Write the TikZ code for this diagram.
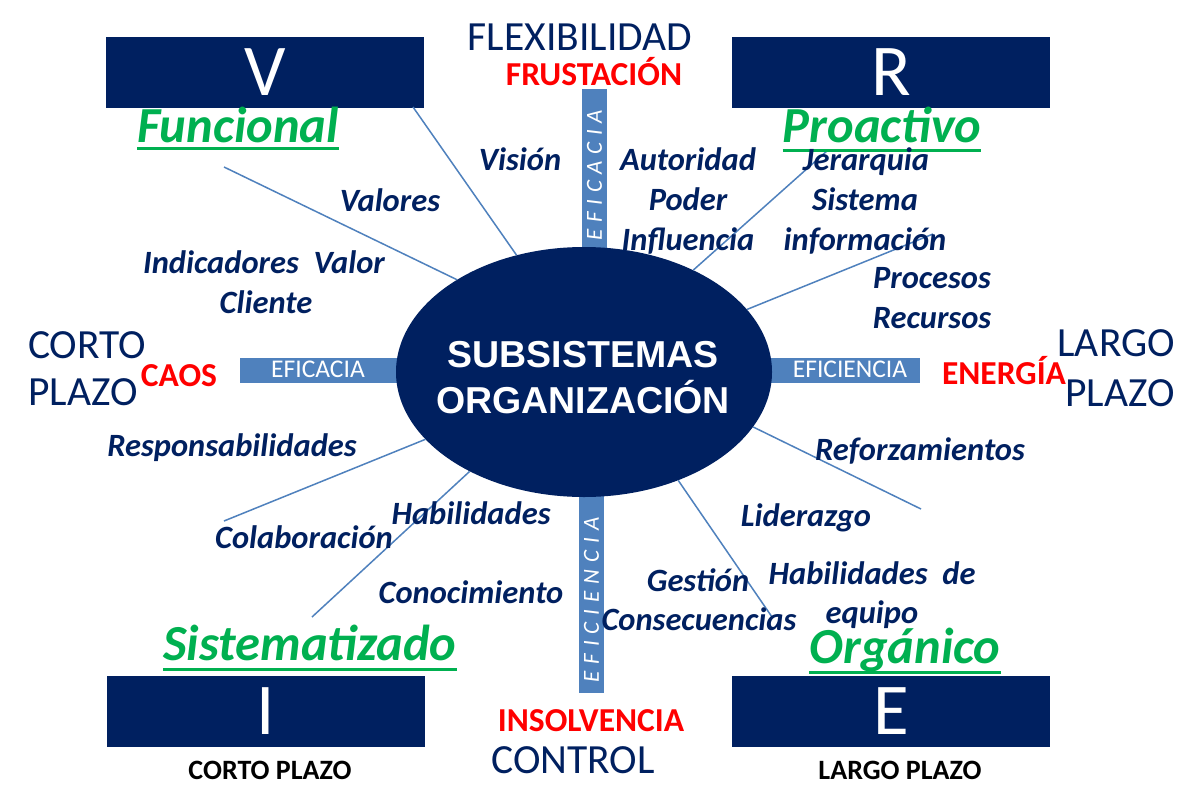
\documentclass[tikz,border=0pt]{standalone}
\usepackage{fontspec}
\setmainfont{Carlito}
\newfontfamily\arialf{Liberation Sans}
\usetikzlibrary{shapes.geometric}
\definecolor{navy}{HTML}{002060}
\definecolor{barblue}{HTML}{4F81BD}
\definecolor{grn}{HTML}{00B050}
\definecolor{rd}{HTML}{FF0000}
\begin{document}
\begin{tikzpicture}[x=1pt,y=-1pt,
  lbl/.style={font=\fontsize{32.5}{38}\selectfont\bfseries\itshape, text=navy, inner sep=0pt, anchor=base},
  big/.style={font=\fontsize{41.5}{48}\selectfont, text=navy, inner sep=0pt, anchor=base},
  redl/.style={font=\fontsize{33.5}{38}\selectfont\bfseries, text=rd, inner sep=0pt, anchor=base},
  blk/.style={font=\fontsize{28}{32}\selectfont\bfseries, text=black, inner sep=0pt, anchor=base},
  ttl/.style={font=\fontsize{50.5}{58}\selectfont\bfseries\itshape, text=grn, inner sep=0pt, anchor=base},
  uline/.style={draw=grn, line width=3pt},
  letterbox/.style={fill=navy, draw=none, minimum width=318pt, minimum height=71pt, inner sep=0pt,
     font=\fontsize{73}{80}\selectfont, text=white},
  bar/.style={fill=barblue, draw=none, inner sep=0pt},
  bartxt/.style={font=\fontsize{25.5}{28}\selectfont, text=white, inner sep=0pt, anchor=base},
  vbartxt/.style={font=\fontsize{23}{26}\selectfont\itshape, text=white, inner sep=0pt, rotate=90},
  spoke/.style={draw=barblue, line width=1.5pt},
  core/.style={font=\fontsize{37.5}{44}\selectfont\arialf\bfseries, text=white, inner sep=0pt, anchor=base}
]
\useasboundingbox[fill=white] (0,0) rectangle (1201,809);

% corner boxes
\node[letterbox] (V) at (265,72.5) {V};
\node[letterbox] (R) at (891,72.5) {R};
\node[letterbox] (I) at (266,711.5) {I};
\node[letterbox] (E) at (891,711.5) {E};

% bars
\node[bar, minimum width=170pt, minimum height=25pt] (barL) at (325,370.5) {};
\node[bar, minimum width=160pt, minimum height=25pt] (barR) at (840,370.5) {};
\node[bar, minimum width=25pt, minimum height=171pt] (barT) at (594.5,174.5) {};
\node[bar, minimum width=25pt, minimum height=208pt] (barB) at (591.5,589) {};

% central ellipse
\node[ellipse, fill=navy, draw=none, minimum width=376pt, minimum height=250pt, inner sep=0pt] (ell) at (584,372) {};
\node[core] (sub) at (583,367) {SUBSISTEMAS};
\node[core] (org) at (583,413) {ORGANIZACIÓN};

% bar texts
\node[bartxt] (tL) at (318,377) {EFICACIA};
\node[bartxt] (tR) at (850,377) {EFICIENCIA};
\node[vbartxt] (tT) at (594.5,175) {\makebox[130pt][s]{E\hfill F\hfill I\hfill C\hfill A\hfill C\hfill I\hfill A}};
\node[vbartxt] (tB) at (591.5,600) {\makebox[165pt][s]{E\hfill F\hfill I\hfill C\hfill I\hfill E\hfill N\hfill C\hfill I\hfill A}};

% spokes
\coordinate (c1) at (413,107);
\coordinate (c2) at (224,167);
\coordinate (c3) at (828,150);
\coordinate (c4) at (933,234);
\coordinate (c5) at (921,509);
\coordinate (c6) at (772,617);
\coordinate (c7) at (224,521);
\coordinate (c8) at (312,617);
\draw[spoke] (c1) -- (ell.120);
\draw[spoke] (c2) -- (ell.144.4);
\draw[spoke] (c3) -- (ell.43.1);
\draw[spoke] (c4) -- (ell.21.3);
\draw[spoke] (c5) -- (ell.-18.1);
\draw[spoke] (c6) -- (ell.-49.8);
\draw[spoke] (c7) -- (ell.203.2);
\draw[spoke] (c8) -- (ell.221.5);

% green titles
\node[ttl] (fun) at (238,142) {Funcional};
\node[ttl] (pro) at (882,142) {Proactivo};
\node[ttl] (sis) at (310,660) {Sistematizado};
\node[ttl] (orga) at (905,663) {Orgánico};
\draw[uline] ([yshift=-6pt]fun.base west) -- ([yshift=-6pt]fun.base east);
\draw[uline] ([yshift=-8pt]pro.base west) -- ([yshift=-8pt]pro.base east);
\draw[uline] ([yshift=-9pt]sis.base west) -- ([yshift=-9pt]sis.base east);
\draw[uline] ([yshift=-9pt]orga.base west) -- ([yshift=-9pt]orga.base east);

% outer words
\node[big] (flex) at (580,50) {FLEXIBILIDAD};
\node[redl] (fru) at (594,85) {FRUSTACIÓN};
\node[big, anchor=base west] (corto) at (28,358) {CORTO};
\node[big, anchor=base west] (plazoL) at (28,405) {PLAZO};
\node[redl] (caos) at (179,386) {CAOS};
\node[big, anchor=base east] (largo) at (1175,356) {LARGO};
\node[big, anchor=base east] (plazoR) at (1175,406) {PLAZO};
\node[redl] (ener) at (1004,384) {ENERGÍA};
\node[redl] (insol) at (591,731) {INSOLVENCIA};
\node[big] (ctrl) at (573,773) {CONTROL};
\node[blk] (cpl) at (270,779) {CORTO PLAZO};
\node[blk] (lpl) at (900,779) {LARGO PLAZO};

% labels
\node[lbl] (vis) at (520,170) {Visión};
\node[lbl] (aut) at (688,170) {Autoridad};
\node[lbl] (pod) at (688,210) {Poder};
\node[lbl] (inf) at (688,250) {Influencia};
\node[lbl] (jer) at (866,170) {Jerarquia};
\node[lbl] (sist) at (865,210) {Sistema};
\node[lbl] (info) at (865,250) {información};
\node[lbl] (proc) at (932,288) {Procesos};
\node[lbl] (rec) at (932,328) {Recursos};
\node[lbl] (val) at (390,211) {Valores};
\node[lbl] (ind) at (264,273) {Indicadores\ \ Valor};
\node[lbl] (cli) at (266,313) {Cliente};
\node[lbl] (resp) at (232,456) {Responsabilidades};
\node[lbl] (col) at (304,548) {Colaboración};
\node[lbl] (hab) at (471,524) {Habilidades};
\node[lbl] (con) at (471,603) {Conocimiento};
\node[lbl] (ref) at (920,460) {Reforzamientos};
\node[lbl] (lid) at (806,526) {Liderazgo};
\node[lbl] (ges) at (698,591) {Gestión};
\node[lbl] (cons) at (699,630) {Consecuencias};
\node[lbl] (habe) at (872,584) {Habilidades\ \ de};
\node[lbl] (equ) at (872,623) {equipo};
\end{tikzpicture}
\end{document}
